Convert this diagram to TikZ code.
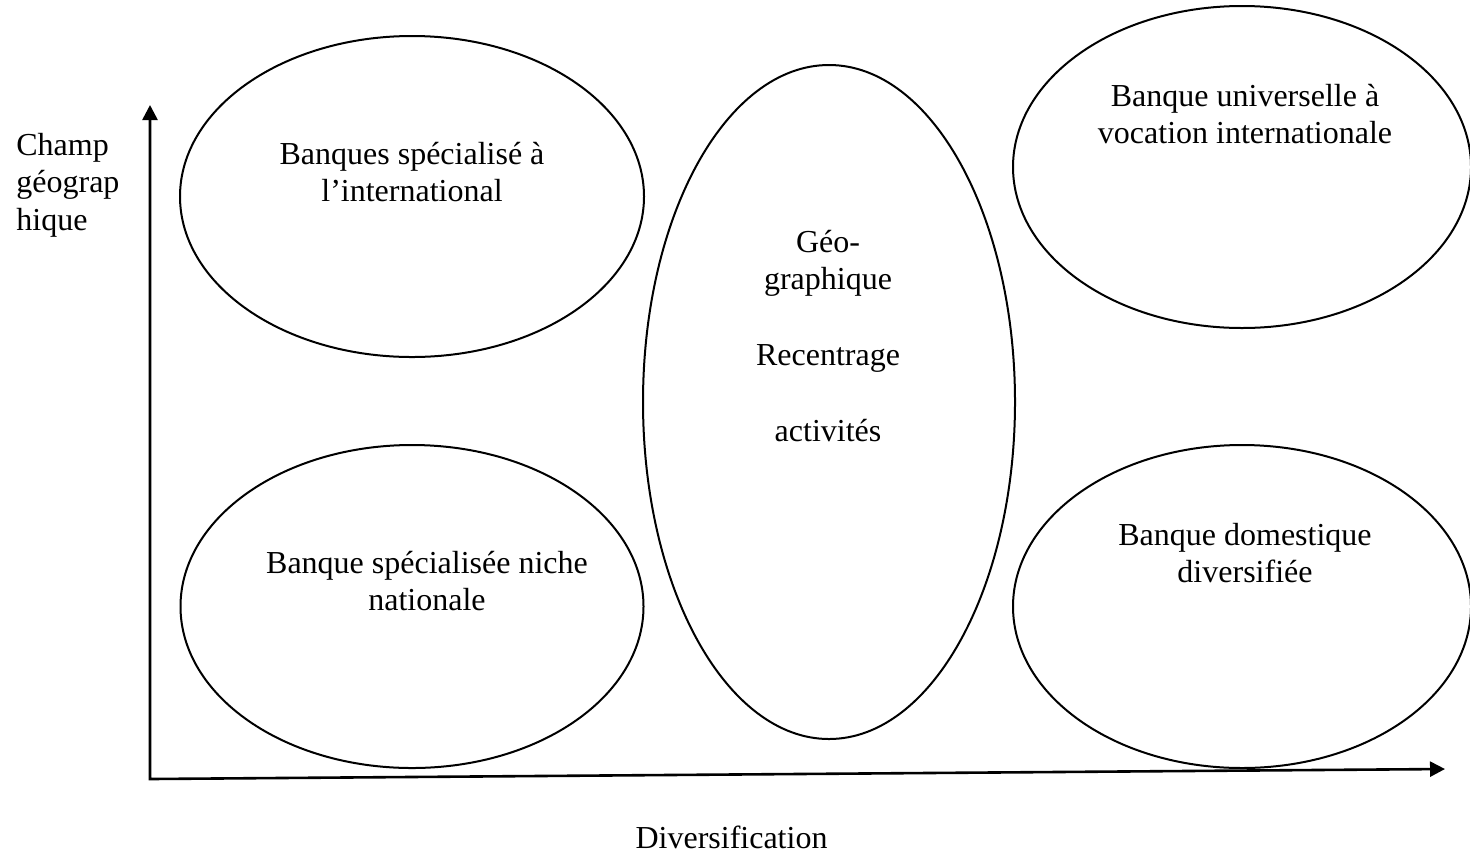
\documentclass[tikz,border=0pt]{standalone}
\usepackage{fontspec}
\setmainfont{Liberation Serif}
\usetikzlibrary{arrows.meta,shapes.geometric}
\tikzset{
  ell/.style={draw, ellipse, line width=1pt, inner sep=0pt},
  lbl/.style={inner sep=0pt, anchor=base, font=\fontsize{16}{18.9}\selectfont},
  axis/.style={line width=1.3pt, {Triangle[length=7.5pt,width=7.5pt]}-{Triangle[length=7.5pt,width=7.5pt]}}
}
\begin{document}
\begin{tikzpicture}[x=0.5pt,y=-0.5pt]
\useasboundingbox (0,0) rectangle (1470,853);
% ellipses
\node[ell, minimum width=232pt, minimum height=160.5pt] (tl) at (412,196.5) {};
\node[ell, minimum width=231.5pt, minimum height=161.5pt] (bl) at (412,606.5) {};
\node[ell, minimum width=186pt, minimum height=337pt] (mid) at (829,402) {};
\node[ell, minimum width=229pt, minimum height=161pt] (tr) at (1242,167) {};
\node[ell, minimum width=229pt, minimum height=161.5pt] (br) at (1242,606.5) {};
% axes
\coordinate (O) at (150,779);
\coordinate (Ytip) at (150,105);
\coordinate (Xtip) at (1445,769);
\draw[axis] (Ytip) -- (O) -- (Xtip);
% labels
\node[lbl, anchor=base west] (ylab) at (16,155) {\begin{tabular}[t]{@{}l@{}}Champ\\géograp\\hique\end{tabular}};
\node[lbl] (xlab) at (731.5,848) {Diversification};
\node[lbl] (tltxt) at (412,164) {\begin{tabular}[t]{@{}c@{}}Banques spécialisé à\\l’international\end{tabular}};
\node[lbl] (bltxt) at (427,573) {\begin{tabular}[t]{@{}c@{}}Banque spécialisée niche\\nationale\end{tabular}};
\node[lbl] (trtxt) at (1245,106) {\begin{tabular}[t]{@{}c@{}}Banque universelle à\\vocation internationale\end{tabular}};
\node[lbl] (brtxt) at (1245,545) {\begin{tabular}[t]{@{}c@{}}Banque domestique\\diversifiée\end{tabular}};
\node[lbl] (midtxt) at (828,252) {\begin{tabular}[t]{@{}c@{}}Géo-\\graphique\\ \\Recentrage\\ \\activités\end{tabular}};
\end{tikzpicture}
\end{document}
